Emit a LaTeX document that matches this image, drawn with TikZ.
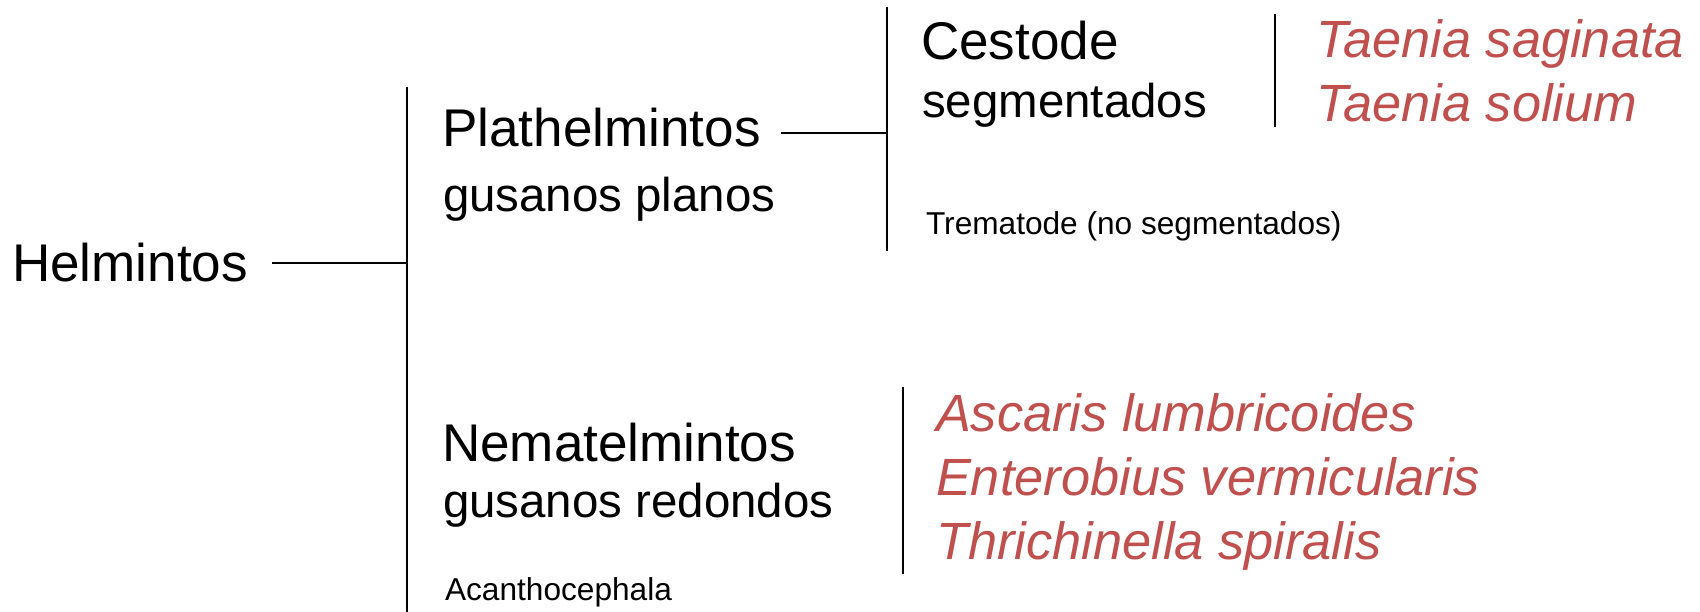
\documentclass[tikz,border=0pt]{standalone}
\usepackage{fontspec}
\setmainfont{Liberation Sans}
\definecolor{latinred}{HTML}{C0504D}
\tikzset{
  taxon/.style={anchor=base west, inner sep=0pt, font=\fontsize{15.1}{18}\selectfont},
  common/.style={anchor=base west, inner sep=0pt, font=\fontsize{13.5}{16}\selectfont},
  minor/.style={anchor=base west, inner sep=0pt, font=\fontsize{9}{11}\selectfont},
  species/.style={anchor=base west, inner sep=0pt, text=latinred, font=\fontsize{14.9}{17}\selectfont\itshape},
}
\begin{document}
\begin{tikzpicture}[line width=0.6pt]

\useasboundingbox (0,0) rectangle (17,6.12);

\coordinate(Aa) at (4.07, 5.25);
\coordinate(Ab) at (4.07, 0);

\coordinate(Ba) at (8.87, 6.05);
\coordinate(Bb) at (8.87, 3.61);

\coordinate(Ca) at (12.75, 5.98);
\coordinate(Cb) at (12.75, 4.85);

\coordinate(Da) at (9.03, 2.25);
\coordinate(Db) at (9.03, 0.38);

\draw (Aa) to (Ab);
\draw (Ba) to (Bb);
\draw (Ca) to (Cb);
\draw (Da) to (Db);

\node[taxon] (helmintos) at (0.11, 3.30) {Helmintos};

\node[taxon] (plat) at (4.41, 4.65) {Plathelmintos};
\node[common] (planos) at (4.42, 4.00) {gusanos planos};

\node[taxon] (cestode) at (9.20, 5.52) {Cestode};
\node[common] (segm) at (9.21, 4.94) {segmentados};
\node[minor] (tremat) at (9.25, 3.77) {Trematode (no segmentados)};

\node[species] (saginata) at (13.15, 5.54) {Taenia saginata};
\node[species] (solium) at (13.15, 4.90) {Taenia solium};

\node[taxon] (nemat) at (4.41, 1.50) {Nematelmintos};
\node[common] (redondos) at (4.42, 0.94) {gusanos redondos};
\node[minor] (acantho) at (4.44, 0.12) {Acanthocephala};

\node[species] (ascaris) at (9.35, 1.80) {Ascaris lumbricoides};
\node[species] (entero) at (9.35, 1.16) {Enterobius vermicularis};
\node[species] (thrich) at (9.35, 0.52) {Thrichinella spiralis};

\draw ([xshift=2.3mm]helmintos.east) to (helmintos.east -| Aa);
\draw ([xshift=1.9mm, yshift=-0.5mm]plat.east)
  to ([yshift=-0.5mm]plat.east -| Ba);

\end{tikzpicture}
\end{document}
